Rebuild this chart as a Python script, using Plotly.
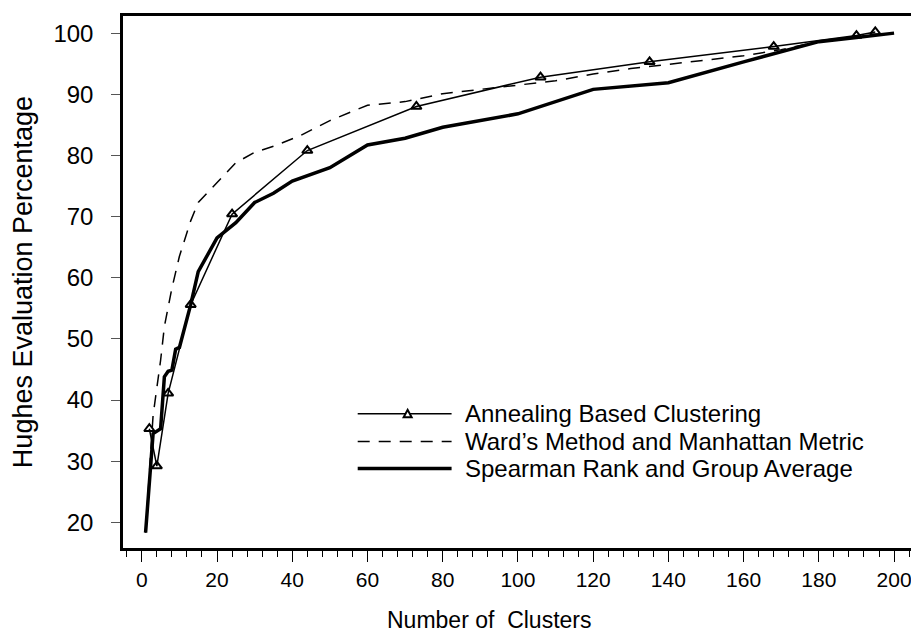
import plotly.graph_objects as go

# ---------------- data ----------------
anneal_x = [2, 4, 7, 13, 24, 44, 73, 106, 135, 168, 190, 195]
anneal_y = [35.3, 29.2, 41.1, 55.6, 70.4, 80.8, 88.0, 92.8, 95.3, 97.8, 99.6, 100.2]

ward_x = [1, 3, 4, 5, 6, 8, 10, 13, 15, 20, 25, 30, 35, 42, 50, 60, 70, 80, 90, 100,
          110, 120, 130, 140, 150, 160, 170, 180, 190, 200]
ward_y = [18.3, 37.5, 42.0, 46.5, 52.0, 58.3, 63.5, 69.3, 72.3, 75.5, 78.8, 80.5, 81.5, 83.2,
          85.7, 88.2, 88.8, 90.1, 90.8, 91.4, 92.2, 93.3, 94.2, 94.9, 95.6, 96.3, 97.3,
          98.6, 99.3, 100.0]

spear_x = [1, 3, 5, 6, 7, 8, 9, 10, 13, 15, 20, 25, 30, 35, 40, 50, 60, 70, 80, 100,
           120, 140, 160, 180, 190, 200]
spear_y = [18.3, 34.5, 35.3, 43.8, 44.7, 44.9, 48.3, 48.6, 55.6, 61.0, 66.5, 69.0, 72.3,
           73.8, 75.8, 78.0, 81.7, 82.8, 84.6, 86.8, 90.8, 91.9, 95.3, 98.6, 99.3, 100.0]

series_names = ["Annealing Based Clustering",
                "Ward\u2019s Method and Manhattan Metric",
                "Spearman Rank and Group Average"]

x_title = "Number of  Clusters"
y_title = "Hughes Evaluation Percentage"
x_tick_vals = [0, 20, 40, 60, 80, 100, 120, 140, 160, 180, 200]
y_tick_vals = [20, 30, 40, 50, 60, 70, 80, 90, 100]

# ---------------- layout geometry ----------------
OFF = 8  # page body margin
W, H = 919 - OFF, 635 - OFF
ML, MT = 123 - OFF, 13 - OFF
MR = W - (912 - OFF)
MB = H - (548 - OFF)
PW, PH = W - ML - MR, H - MT - MB


def px(x):
    return (x - OFF - ML) / PW


def py(y):
    return (H - MB - (y - OFF)) / PH


FONT = "Liberation Sans, Arial, sans-serif"

fig = go.Figure()
fig.add_trace(go.Scatter(x=anneal_x, y=anneal_y, mode="lines+markers", name=series_names[0],
                         line=dict(color="black", width=1.5),
                         marker=dict(symbol="triangle-up-open", size=9, color="black",
                                     line=dict(width=2, color="black")),
                         showlegend=False))
fig.add_trace(go.Scatter(x=ward_x, y=ward_y, mode="lines", name=series_names[1],
                         line=dict(color="black", width=1.5, dash="12px,9px"),
                         showlegend=False))
fig.add_trace(go.Scatter(x=spear_x, y=spear_y, mode="lines", name=series_names[2],
                         line=dict(color="black", width=3.5),
                         showlegend=False))

# ---------------- manual legend ----------------
rows = [413, 441, 468]
lx0, lx1, tx = 358, 452, 463
shapes = [
    dict(type="line", xref="paper", yref="paper", x0=px(lx0), x1=px(lx1),
         y0=py(rows[0]), y1=py(rows[0]), line=dict(color="black", width=1.5)),
    dict(type="path", xref="paper", yref="paper",
         path="M {a},{b} L {c},{b} L {d},{e} Z".format(
             a=px(404), c=px(412), b=py(rows[0] + 3.5), d=px(408), e=py(rows[0] - 4)),
         line=dict(color="black", width=2), fillcolor="white"),
    dict(type="line", xref="paper", yref="paper", x0=px(lx0), x1=px(lx1),
         y0=py(rows[1]), y1=py(rows[1]),
         line=dict(color="black", width=1.5, dash="12px,9px")),
    dict(type="line", xref="paper", yref="paper", x0=px(lx0), x1=px(lx1),
         y0=py(rows[2]), y1=py(rows[2]), line=dict(color="black", width=3.5)),
]
annotations = []
for name, r in zip(series_names, rows):
    annotations.append(dict(text=name, xref="paper", yref="paper", x=px(tx), y=py(r),
                            xanchor="left", yanchor="middle", showarrow=False,
                            font=dict(family=FONT, size=24, color="black")))
# x-axis title (slightly left of centre, as in the reference)
annotations.append(dict(text=x_title, xref="paper", yref="paper", x=px(490), y=py(620),
                        xanchor="center", yanchor="middle", showarrow=False,
                        font=dict(family=FONT, size=23, color="black")))

fig.update_layout(
    width=W, height=H,
    margin=dict(l=ML, r=MR, t=MT, b=MB, pad=0),
    paper_bgcolor="white", plot_bgcolor="white",
    shapes=shapes, annotations=annotations,
    xaxis=dict(range=[-5, 204.5], tickvals=x_tick_vals, ticks="outside", ticklen=11,
               tickwidth=1, tickcolor="black",
               minor=dict(dtick=4, tick0=0, ticks="outside", ticklen=6, tickcolor="black",
                          tickwidth=1, showgrid=False),
               showgrid=False, zeroline=False, showline=True, mirror=True,
               linecolor="black", linewidth=2.5,
               tickfont=dict(family=FONT, size=21, color="black")),
    yaxis=dict(range=[15.8, 102.8], tickvals=y_tick_vals, ticks="outside", ticklen=9,
               tickwidth=1, tickcolor="#555555", ticklabelstandoff=13,
               showgrid=False, zeroline=False, showline=True, mirror=True,
               linecolor="black", linewidth=2.5,
               tickfont=dict(family=FONT, size=24, color="black"),
               title=dict(text=y_title, standoff=14,
                          font=dict(family=FONT, size=27, color="black"))),
)

fig.write_html("out.html")
